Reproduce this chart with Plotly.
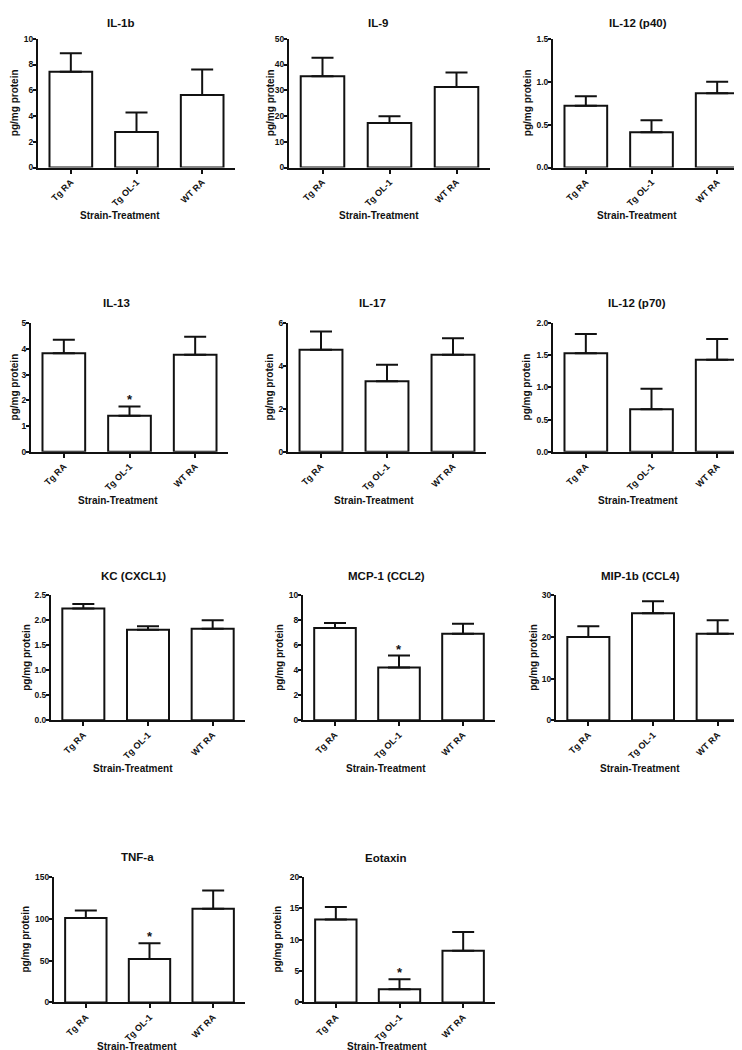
import plotly.graph_objects as go

# Datos: media y error estándar por grupo
GROUPS = ["Tg RA", "Tg OL-1", "WT RA"]

TITLES = ["IL-1b", "IL-9", "IL-12 (p40)",
          "IL-13", "IL-17", "IL-12 (p70)",
          "KC (CXCL1)", "MCP-1 (CCL2)", "MIP-1b (CCL4)",
          "TNF-a", "Eotaxin"]

IL1B_MEAN = [7.43, 2.75, 5.63]
IL1B_SEM = [1.45, 1.53, 1.98]
IL9_MEAN = [35.4, 17.3, 31.3]
IL9_SEM = [7.2, 2.6, 5.6]
IL12P40_MEAN = [0.72, 0.41, 0.865]
IL12P40_SEM = [0.11, 0.14, 0.135]
IL13_MEAN = [3.83, 1.40, 3.77]
IL13_SEM = [0.52, 0.36, 0.70]
IL17_MEAN = [4.75, 3.29, 4.52]
IL17_SEM = [0.85, 0.76, 0.77]
IL12P70_MEAN = [1.53, 0.66, 1.43]
IL12P70_SEM = [0.30, 0.32, 0.32]
KC_MEAN = [2.24, 1.81, 1.83]
KC_SEM = [0.09, 0.07, 0.17]
MCP1_MEAN = [7.38, 4.23, 6.93]
MCP1_SEM = [0.40, 0.95, 0.79]
MIP1B_MEAN = [20.0, 25.7, 20.8]
MIP1B_SEM = [2.6, 2.9, 3.2]
TNFA_MEAN = [100.8, 52.0, 111.8]
TNFA_SEM = [9.0, 18.5, 21.6]
EOTAXIN_MEAN = [13.2, 2.1, 8.24]
EOTAXIN_SEM = [2.0, 1.6, 2.96]

MEANS = [IL1B_MEAN, IL9_MEAN, IL12P40_MEAN, IL13_MEAN, IL17_MEAN, IL12P70_MEAN,
         KC_MEAN, MCP1_MEAN, MIP1B_MEAN, TNFA_MEAN, EOTAXIN_MEAN]
SEMS = [IL1B_SEM, IL9_SEM, IL12P40_SEM, IL13_SEM, IL17_SEM, IL12P70_SEM,
        KC_SEM, MCP1_SEM, MIP1B_SEM, TNFA_SEM, EOTAXIN_SEM]

Y_MAX = [10, 50, 1.5, 5, 6, 2.0, 2.5, 10, 30, 150, 20]
Y_DTICK = [2, 10, 0.5, 1, 2, 0.5, 0.5, 2, 10, 50, 5]
Y_FORMAT = ["d", "d", ".1f", "d", "d", ".1f", ".1f", "d", "d", "d", "d"]
SIGNIFICANT = [False, False, False, True, False, False, False, True, False, True, True]

# Geometría de cada panel en píxeles: (x eje y, x fin eje x, y superior, y cero)
W, H = 742, 1050
BOXES = [(30, 227, 26, 156), (281, 482, 26, 156), (545, 742, 26, 156),
         (23, 220, 313, 443), (280, 478, 313, 443), (545, 742, 313, 443),
         (43, 237, 588, 714), (295, 487, 588, 714), (548, 742, 588, 714),
         (46, 237, 872, 999), (296, 487, 872, 999)]
TITLE_POS = [(113, 10), (370, 10), (630, 10),
             (108, 293), (364, 293), (629, 293),
             (126, 568), (378, 568), (632, 568),
             (129, 852), (378, 853)]
XTITLE_POS = [(112, 204), (371, 204), (629, 204),
              (110, 492), (366, 492), (630, 492),
              (125, 763), (378, 763), (632, 763),
              (129, 1043), (379, 1043)]
YTITLE_X = [6, 262, 519, 6, 261, 518, 19, 272, 526, 18, 270]

INK = "#111111"
FONT = "Liberation Sans, Arial, sans-serif"

fig = go.Figure()
annotations = []

for i, title in enumerate(TITLES):
    n = i + 1
    x0, x1, ytop, yzero = BOXES[i]
    xa = "x" if n == 1 else f"x{n}"
    ya = "y" if n == 1 else f"y{n}"

    fig.add_trace(go.Bar(
        x=GROUPS,
        y=MEANS[i],
        width=0.65,
        marker=dict(color="white", line=dict(color=INK, width=2)),
        error_y=dict(type="data", symmetric=False, array=SEMS[i],
                     arrayminus=[0, 0, 0], color=INK, thickness=2, width=11),
        xaxis=xa, yaxis=ya, showlegend=False,
    ))

    fig.layout[f"xaxis{n}"] = dict(
        domain=[x0 / W, x1 / W], anchor=ya,
        type="category", range=[-0.5, 2.5],
        showline=True, linecolor=INK, linewidth=2,
        ticks="outside", ticklen=4, tickwidth=1.5, tickcolor=INK,
        tickangle=-45, showgrid=False, zeroline=False,
        tickfont=dict(family=FONT, size=9, color=INK, weight="bold"),
    )
    fig.layout[f"yaxis{n}"] = dict(
        domain=[1 - yzero / H, 1 - ytop / H], anchor=xa,
        range=[0, Y_MAX[i]], dtick=Y_DTICK[i], tick0=0, tickformat=Y_FORMAT[i],
        showline=True, linecolor=INK, linewidth=2,
        ticks="outside", ticklen=3, tickwidth=1.5, tickcolor=INK,
        ticklabelstandoff=-2,
        showgrid=False, zeroline=False,
        tickfont=dict(family=FONT, size=8.5, color=INK, weight="bold"),
    )

    tx, ty = TITLE_POS[i]
    annotations.append(dict(
        text=f"<b>{title}</b>", x=tx / W, y=1 - ty / H, xref="paper", yref="paper",
        xanchor="center", yanchor="middle", showarrow=False,
        font=dict(family=FONT, size=11.5, color=INK),
    ))
    sx, sy = XTITLE_POS[i]
    annotations.append(dict(
        text="<b>Strain-Treatment</b>", x=sx / W, y=1 - sy / H, xref="paper", yref="paper",
        xanchor="center", yanchor="middle", showarrow=False,
        font=dict(family=FONT, size=10, color=INK),
    ))
    annotations.append(dict(
        text="<b>pg/mg protein</b>", x=YTITLE_X[i] / W, y=1 - (ytop + yzero) / 2 / H,
        xref="paper", yref="paper", textangle=-90,
        xanchor="center", yanchor="middle", showarrow=False,
        font=dict(family=FONT, size=10, color=INK),
    ))
    if SIGNIFICANT[i]:
        annotations.append(dict(
            text="<b>*</b>", x=GROUPS[1], y=MEANS[i][1] + SEMS[i][1],
            xref=xa, yref=ya, xanchor="center", yanchor="bottom",
            yshift=-3, showarrow=False,
            font=dict(family=FONT, size=13, color=INK),
        ))

fig.update_layout(
    width=W, height=H,
    margin=dict(l=0, r=0, t=0, b=0),
    paper_bgcolor="white", plot_bgcolor="white",
    annotations=annotations,
    bargap=0.35,
)

fig.write_html("out.html")
